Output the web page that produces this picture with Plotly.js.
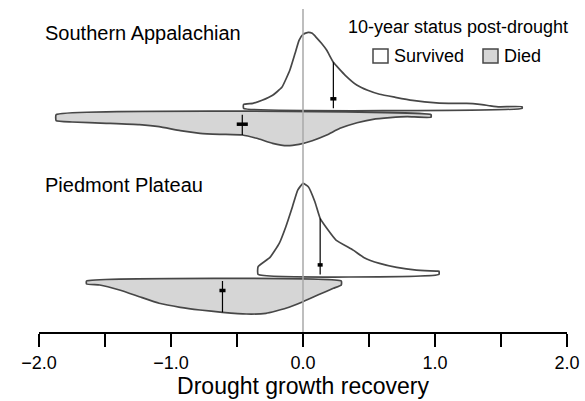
<!DOCTYPE html>
<html>
<head>
<meta charset="utf-8">
<script src="https://cdn.plot.ly/plotly-3.0.1.min.js"></script>
<style>html,body{margin:0;padding:0;background:#fff;}#chart{width:585px;height:401px;}</style>
</head>
<body>
<div id="chart"></div>
<script>
// ---- Data ----
const regions = ["Southern Appalachian", "Piedmont Plateau"];
const statuses = ["Survived", "Died"];
const legendTitle = "10-year status post-drought";
const xTitle = "Drought growth recovery";

// density curves (relative height) along drought growth recovery
const xSA_surv = [-0.45,-0.38,-0.31,-0.23,-0.16,-0.10,-0.06,-0.03,0.00,0.04,0.07,0.10,0.14,0.18,0.23,0.32,0.41,0.49,0.58,0.70,0.83,1.01,1.15,1.24,1.34,1.42,1.49,1.66];
const dSA_surv = [3.8,5,8,13,21,38,55,68,74,76,75,71,65,58,46,33,23,18,14,11,8,5.5,5,5,4,2.5,1.5,1.5];

const xSA_died = [-1.87,-1.75,-1.49,-1.24,-1.09,-0.93,-0.78,-0.63,-0.46,-0.35,-0.23,-0.12,-0.03,0.07,0.18,0.28,0.41,0.53,0.66,0.79,0.97];
const dSA_died = [6,7.3,8.6,10,12,16,18.6,19.6,20.3,23.6,28.6,31,29.6,26,20.3,13.6,8,4.6,3,2,2.5];

const xPP_surv = [-0.34,-0.25,-0.18,-0.13,-0.08,-0.04,0.00,0.04,0.09,0.13,0.19,0.25,0.38,0.46,0.58,0.71,0.86,1.01,1.03];
const dPP_surv = [7.7,17,31,47.7,67.7,84.3,91,87.7,72.7,56,44.3,34.3,24.3,17,11,7,4.3,3.3,3.3];

const xPP_died = [-1.64,-1.54,-1.39,-1.24,-1.09,-0.93,-0.78,-0.61,-0.43,-0.28,-0.13,0.00,0.13,0.23,0.29];
const dPP_died = [3,4,9,15.7,22.3,26.3,29,31.3,33,32.3,27.3,20.7,13,7.3,4];

// medians and their error half-widths, per region [SA, PP]
const medianSurv = [0.23, 0.13];
const medianDied = [-0.46, -0.61];
const errSurv = [0.023, 0.019];
const errDied = [0.042, 0.023];

const tickVals = [-2.0,-1.5,-1.0,-0.5,0.0,0.5,1.0,1.5,2.0];
const tickLabels = ["\u22122.0","","\u22121.0","","0.0","","1.0","","2.0"];

// ---- Geometry / style ----
const FONT = "Liberation Sans, Arial, Helvetica, sans-serif";
const W = 585, H = 401, ML = 39, MR = 18, MT = 0, MB = 69;
const PH = H - MT - MB;           // plot height in px
const XR = [-2, 2];
const pxToX = px => XR[0] + (px - ML) * (XR[1] - XR[0]) / (W - ML - MR);
const pyToY = py => PH - (py - MT);

const baseSurv = [pyToY(108.3), pyToY(274.4)];
const baseDied = [pyToY(114.7), pyToY(281.0)];
const markOff = 9.5;
const OUT = "#474747", FILLD = "#d6d6d6";

function interp(xs, ds, x) {
  for (let i = 0; i < xs.length - 1; i++) {
    if (x >= xs[i] && x <= xs[i+1]) {
      const t = (x - xs[i]) / (xs[i+1] - xs[i]);
      return ds[i] + t * (ds[i+1] - ds[i]);
    }
  }
  return 0;
}
function shape(xs, ds, base, sign, fill) {
  const X = [xs[0]], Y = [base];
  for (let i = 0; i < xs.length; i++) { X.push(xs[i]); Y.push(base + sign * ds[i]); }
  X.push(xs[xs.length-1]); Y.push(base); X.push(xs[0]); Y.push(base);
  return {x: X, y: Y, type: "scatter", mode: "lines", fill: "toself", fillcolor: fill,
          line: {color: OUT, width: 1.7, shape: "spline", smoothing: 0.4}, hoverinfo: "skip"};
}

const survX = [xSA_surv, xPP_surv], survD = [dSA_surv, dPP_surv];
const diedX = [xSA_died, xPP_died], diedD = [dSA_died, dPP_died];

const traces = [];
for (let r = 0; r < regions.length; r++) {
  traces.push(shape(diedX[r], diedD[r], baseDied[r], -1, FILLD));
  traces.push(shape(survX[r], survD[r], baseSurv[r], 1, "#ffffff"));
}
for (let r = 0; r < regions.length; r++) {
  const ms = medianSurv[r], md = medianDied[r];
  traces.push({x: [ms, ms], y: [baseSurv[r], baseSurv[r] + interp(survX[r], survD[r], ms)],
    type: "scatter", mode: "lines", line: {color: "#000", width: 1.2}, hoverinfo: "skip"});
  traces.push({x: [md, md], y: [baseDied[r], baseDied[r] - interp(diedX[r], diedD[r], md)],
    type: "scatter", mode: "lines", line: {color: "#000", width: 1.2}, hoverinfo: "skip"});
  traces.push({x: [ms - errSurv[r], ms + errSurv[r]], y: [baseSurv[r] + markOff, baseSurv[r] + markOff],
    type: "scatter", mode: "lines", line: {color: "#000", width: 3.5}, hoverinfo: "skip"});
  traces.push({x: [md - errDied[r], md + errDied[r]], y: [baseDied[r] - markOff, baseDied[r] - markOff],
    type: "scatter", mode: "lines", line: {color: "#000", width: 3.5}, hoverinfo: "skip"});
}

const shapes = [
  {type: "line", xref: "x", yref: "y", x0: 0, x1: 0, y0: 0, y1: pyToY(9), layer: "above",
   line: {color: "#a8a8a8", width: 1.5}},
  {type: "rect", xref: "x", yref: "y", x0: pxToX(373), x1: pxToX(388), y0: pyToY(63), y1: pyToY(49),
   line: {color: OUT, width: 1.5}, fillcolor: "#ffffff"},
  {type: "rect", xref: "x", yref: "y", x0: pxToX(483), x1: pxToX(498), y0: pyToY(63), y1: pyToY(49),
   line: {color: OUT, width: 1.5}, fillcolor: FILLD}
];

const annotations = [
  {text: regions[0], x: pxToX(43), y: pyToY(33), xanchor: "left", yanchor: "middle", showarrow: false,
   font: {family: FONT, size: 20, color: "#000"}},
  {text: regions[1], x: pxToX(43), y: pyToY(185), xanchor: "left", yanchor: "middle", showarrow: false,
   font: {family: FONT, size: 20, color: "#000"}},
  {text: legendTitle, x: pxToX(458), y: pyToY(27), xanchor: "center", yanchor: "middle", showarrow: false,
   font: {family: FONT, size: 18, color: "#000"}},
  {text: statuses[0], x: pxToX(392), y: pyToY(56), xanchor: "left", yanchor: "middle", showarrow: false,
   font: {family: FONT, size: 18, color: "#000"}},
  {text: statuses[1], x: pxToX(502), y: pyToY(56), xanchor: "left", yanchor: "middle", showarrow: false,
   font: {family: FONT, size: 18, color: "#000"}}
];

const layout = {
  width: W, height: H,
  margin: {l: ML, r: MR, t: MT, b: MB, pad: 0},
  paper_bgcolor: "#fff", plot_bgcolor: "#fff",
  showlegend: false, hovermode: false,
  xaxis: {range: XR, showgrid: false, zeroline: false, showline: true, linecolor: "#000", linewidth: 2,
    ticks: "outside", ticklen: 13, tickwidth: 2, tickcolor: "#000",
    tickmode: "array", tickvals: tickVals, ticktext: tickLabels,
    tickfont: {family: FONT, size: 18, color: "#000"},
    title: {text: xTitle, font: {family: FONT, size: 23, color: "#000"}, standoff: 6}},
  yaxis: {range: [0, PH], visible: false, showgrid: false, zeroline: false},
  shapes: shapes, annotations: annotations
};

Plotly.newPlot("chart", traces, layout, {staticPlot: true, displayModeBar: false});
</script>
</body>
</html>
